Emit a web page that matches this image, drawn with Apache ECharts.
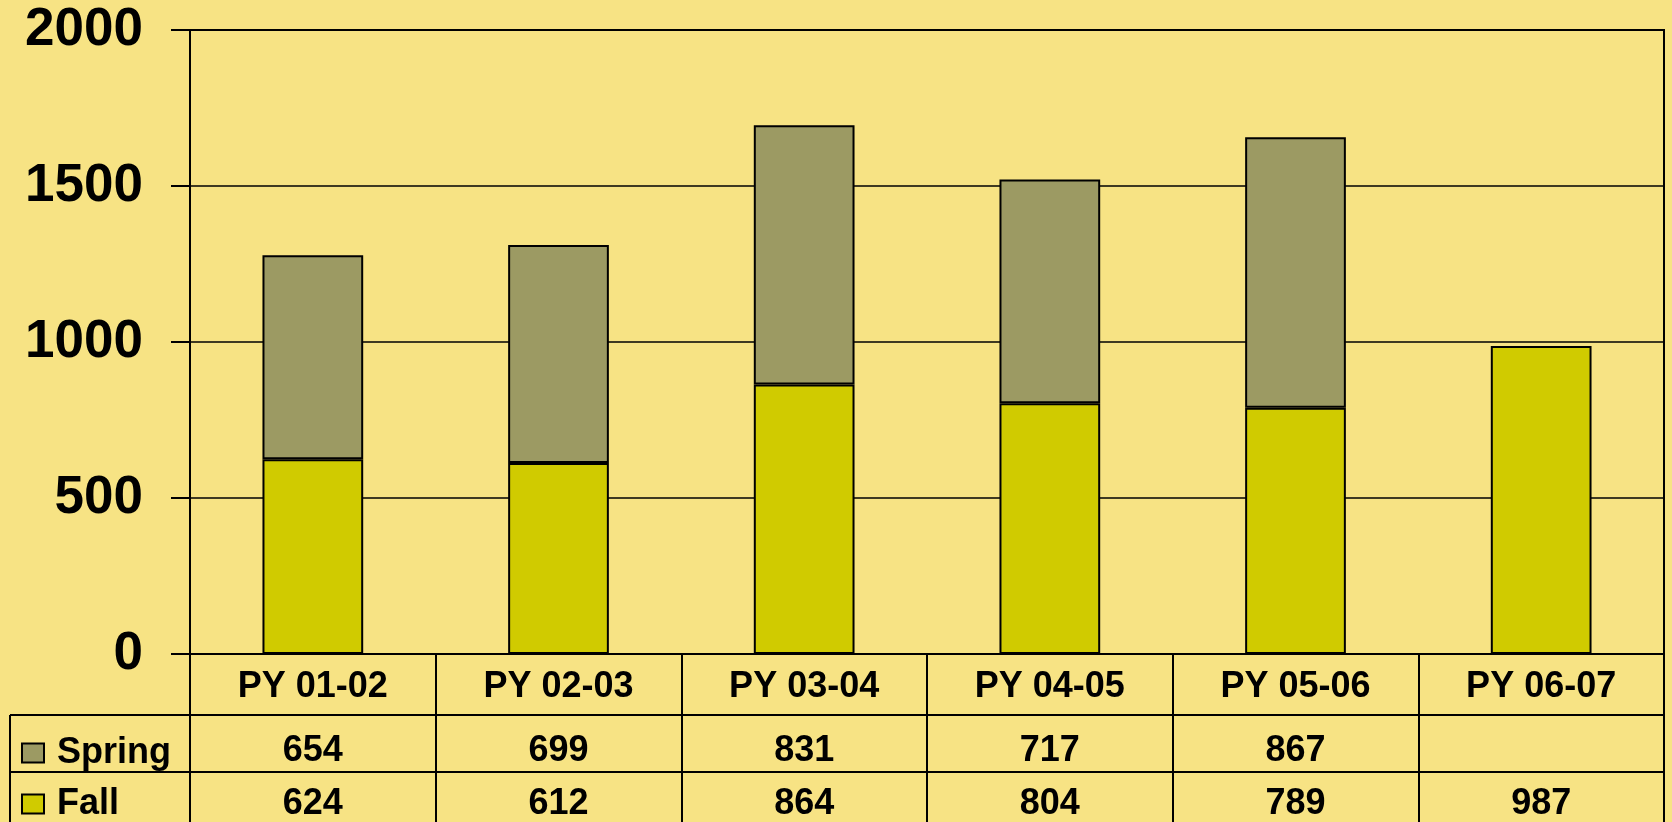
<!DOCTYPE html>
<html>
<head>
<meta charset="utf-8">
<style>
html,body{margin:0;padding:0;background:#F7E384;}
#c{width:1672px;height:822px;}
</style>
<script src="https://cdn.jsdelivr.net/npm/echarts@6/dist/echarts.min.js"></script>
</head>
<body>
<div id="c"></div>
<script>
// ---- data ----
const categories = ['PY 01-02', 'PY 02-03', 'PY 03-04', 'PY 04-05', 'PY 05-06', 'PY 06-07'];
const springValues = [654, 699, 831, 717, 867, null];
const fallValues = [624, 612, 864, 804, 789, 987];
const yTicks = { min: 0, max: 2000, interval: 500 };

// ---- layout ----
const W = 1672, H = 822;
const gridLeft = 190, gridTop = 30, gridRight = 8, gridBottom = 168;
const zeroY = H - gridBottom;      // 654
const row1 = 61, row2 = 57;        // table row heights
const tableLeft = 10;
const font = 'Liberation Sans, Arial, sans-serif';
const spColor = '#9C9A63', faColor = '#D0CB00', bg = '#F7E384';

const chart = echarts.init(document.getElementById('c'), null, { renderer: 'canvas' });

const rowLabel = (margin) => ({
  show: true, color: '#000', fontFamily: font, fontWeight: 'bold', fontSize: 36,
  verticalAlign: 'middle', margin: margin, interval: 0
});
const lineStyle = { color: '#000', width: 2 };
const legendText = { color: '#000', fontFamily: font, fontWeight: 'bold', fontSize: 36, padding: [0, 0, 0, 8] };

chart.setOption({
  backgroundColor: bg,
  animation: false,
  grid: { left: gridLeft, top: gridTop, right: gridRight, bottom: gridBottom,
          show: true, borderColor: '#000', borderWidth: 2, backgroundColor: 'transparent' },
  legend: [
    { data: ['Spring'], left: 21, top: zeroY + row1 + 20, orient: 'vertical', padding: 0,
      itemWidth: 22, itemHeight: 19, icon: 'rect', textStyle: legendText },
    { data: ['Fall'], left: 21, top: zeroY + row1 + row2 + 14, orient: 'vertical', padding: 0,
      itemWidth: 22, itemHeight: 19, icon: 'rect', textStyle: legendText }
  ],
  xAxis: [
    { type: 'category', data: categories, position: 'bottom',
      axisLine: { show: true, lineStyle: lineStyle },
      axisTick: { show: true, length: row1, interval: 0, lineStyle: lineStyle },
      axisLabel: rowLabel(33) },
    { type: 'category', data: springValues.map(v => v == null ? '' : String(v)), position: 'bottom', offset: row1,
      axisLine: { show: true, lineStyle: lineStyle },
      axisTick: { show: true, length: row2, interval: 0, lineStyle: lineStyle },
      axisLabel: rowLabel(36) },
    { type: 'category', data: fallValues.map(v => v == null ? '' : String(v)), position: 'bottom', offset: row1 + row2,
      axisLine: { show: true, lineStyle: lineStyle },
      axisTick: { show: true, length: 80, interval: 0, lineStyle: lineStyle },
      axisLabel: rowLabel(32) }
  ],
  yAxis: {
    type: 'value', min: yTicks.min, max: yTicks.max, interval: yTicks.interval,
    axisLine: { show: true, lineStyle: lineStyle },
    axisTick: { show: true, length: 19, lineStyle: lineStyle },
    splitLine: { show: true, lineStyle: { color: '#000', width: 1.5 } },
    axisLabel: { color: '#000', fontFamily: font, fontWeight: 'bold', fontSize: 53, margin: 47,
                 formatter: v => String(v) }
  },
  series: [
    { name: 'Fall', type: 'bar', stack: 's', data: fallValues, barWidth: '41%', xAxisIndex: 0,
      itemStyle: { color: faColor, borderColor: '#000', borderWidth: 2 } },
    { name: 'Spring', type: 'bar', stack: 's', data: springValues, barWidth: '41%', xAxisIndex: 0,
      itemStyle: { color: spColor, borderColor: '#000', borderWidth: 2 } }
  ],
  graphic: [
    { type: 'line', shape: { x1: tableLeft, y1: zeroY + row1, x2: gridLeft, y2: zeroY + row1 }, style: { stroke: '#000', lineWidth: 2 } },
    { type: 'line', shape: { x1: tableLeft, y1: zeroY + row1 + row2, x2: gridLeft, y2: zeroY + row1 + row2 }, style: { stroke: '#000', lineWidth: 2 } },
    { type: 'line', shape: { x1: tableLeft, y1: zeroY + row1, x2: tableLeft, y2: H + 5 }, style: { stroke: '#000', lineWidth: 2 } }
  ]
});
</script>
</body>
</html>
